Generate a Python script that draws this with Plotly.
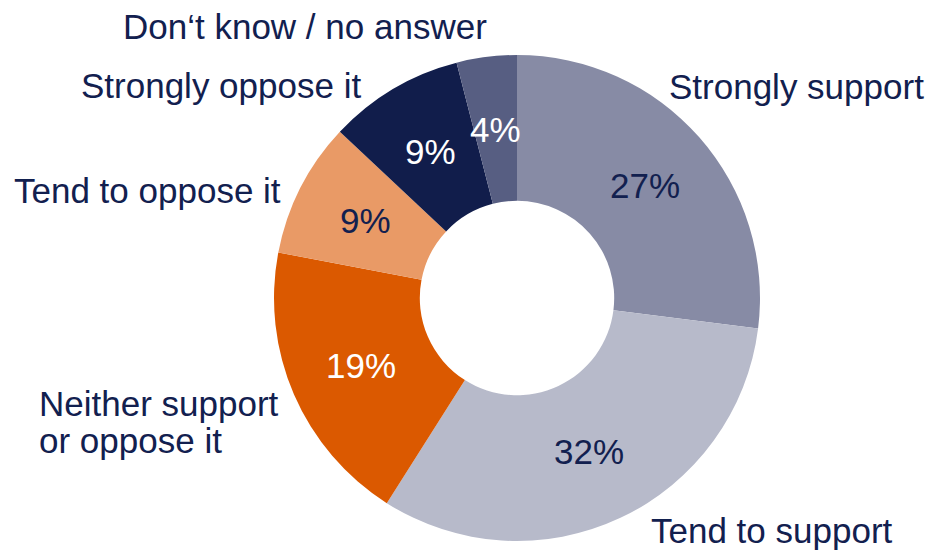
import math
import plotly.graph_objects as go

# Survey answers, clockwise from 12 o'clock
categories = [
    "Strongly support",
    "Tend to support",
    "Neither support or oppose it",
    "Tend to oppose it",
    "Strongly oppose it",
    "Don‘t know / no answer",
]
shares = [27, 32, 19, 9, 9, 4]
colors = ["#878BA5", "#B7BACA", "#DB5900", "#E99A66", "#111D4B", "#575E82"]
inner_text_colors = ["#12204F", "#12204F", "#FFFFFF", "#12204F", "#FFFFFF", "#FFFFFF"]

# Outside category captions (one entry per line) and their page positions (pixels)
caption_lines = [
    ["Strongly support"],
    ["Tend to support"],
    ["Neither support", "or oppose it"],
    ["Tend to oppose it"],
    ["Strongly oppose it"],
    ["Don‘t know / no answer"],
]
caption_pos = [(667, 86), (649, 530), (37, 403), (12, 190), (79, 85), (121, 27)]
LINE_GAP = 37

W, H = 930, 550
FONT = "Arial, Liberation Sans, sans-serif"
NAVY = "#12204F"
SIZE = 35

# Ring geometry in pixels
cx, cy, R = 517, 298, 243
HOLE = 0.40

fig = go.Figure(
    go.Pie(
        labels=categories,
        values=shares,
        sort=False,
        direction="clockwise",
        rotation=0,
        hole=HOLE,
        marker=dict(colors=colors, line=dict(width=0)),
        textinfo="none",
        hoverinfo="label+percent",
        showlegend=False,
        domain=dict(
            x=[(cx - R) / W, (cx + R) / W],
            y=[(H - cy - R) / H, (H - cy + R) / H],
        ),
    )
)

# Percentage labels at the middle of each ring segment
total = sum(shares)
mid_r = R * (1 + HOLE) / 2
running = 0
for value, tcolor in zip(shares, inner_text_colors):
    ang = 2 * math.pi * (running + value / 2) / total
    running += value
    px = cx + mid_r * math.sin(ang)
    py = cy - mid_r * math.cos(ang)
    fig.add_annotation(
        text=f"{value}%",
        xref="paper", yref="paper",
        x=px / W, y=1 - py / H,
        xanchor="center", yanchor="middle",
        showarrow=False,
        font=dict(family=FONT, size=SIZE, color=tcolor),
    )

# Category captions around the ring
for lines, (px, py) in zip(caption_lines, caption_pos):
    for i, line in enumerate(lines):
        fig.add_annotation(
            text=line,
            xref="paper", yref="paper",
            x=px / W, y=1 - (py + i * LINE_GAP) / H,
            xanchor="left", yanchor="middle",
            align="left",
            showarrow=False,
            font=dict(family=FONT, size=SIZE, color=NAVY),
        )

fig.update_layout(
    width=W, height=H,
    margin=dict(l=0, r=0, t=0, b=0),
    paper_bgcolor="white",
    plot_bgcolor="white",
)

fig.write_html("out.html")
